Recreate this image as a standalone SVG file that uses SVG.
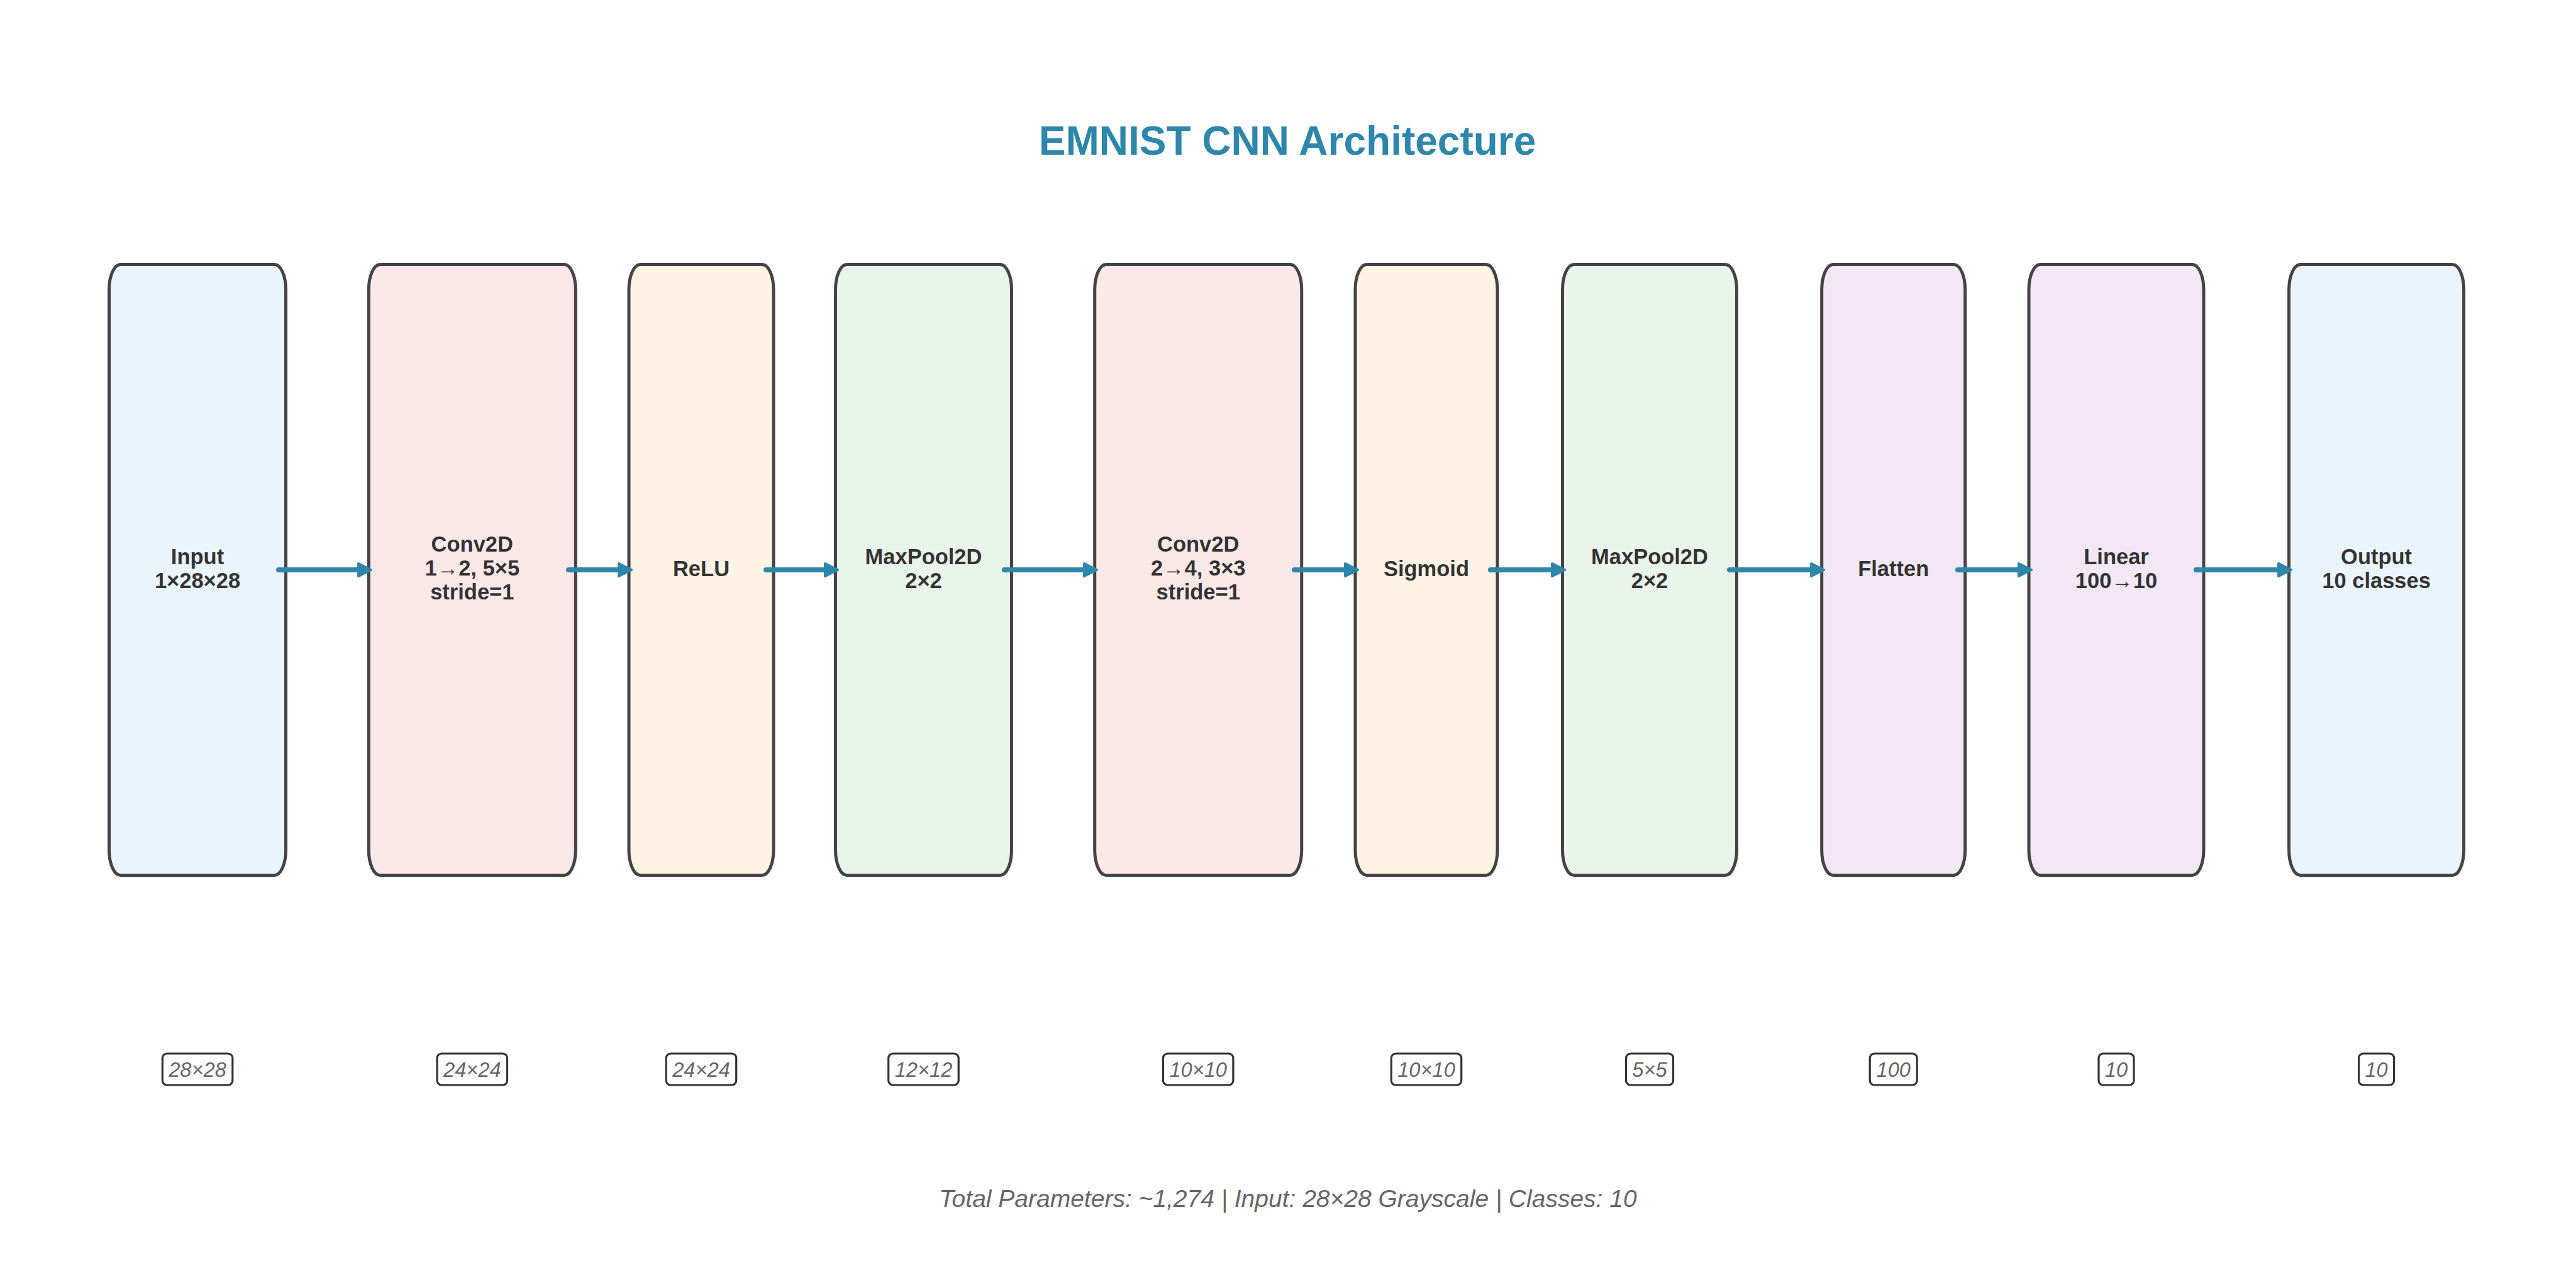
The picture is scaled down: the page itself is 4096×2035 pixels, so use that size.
<svg xmlns="http://www.w3.org/2000/svg" width="4096" height="2035" viewBox="0 0 4096 2035">
<style>
.box{stroke:#444;stroke-width:5}
.lbl{font-family:"Liberation Sans",Arial,sans-serif;font-weight:bold;font-size:34.5px;fill:#333;text-anchor:middle}
.badge{fill:#fff;stroke:#333;stroke-width:3.2}
.btxt{font-family:"Liberation Sans",Arial,sans-serif;font-style:italic;font-size:32.6px;fill:#666;text-anchor:middle}
.conn line{stroke:#2E86AB;stroke-width:8;stroke-linecap:round}
.conn polygon{fill:#2E86AB;stroke:#2E86AB;stroke-width:4;stroke-linejoin:round}
.blue{fill:#EAF4FD}.red{fill:#FDE8E8}.orange{fill:#FFF3E3}.green{fill:#E9F5E9}.purple{fill:#F3E7F5}
</style>
<rect width="4096" height="2035" fill="#fff"/>
<text x="2047" y="246" font-family="'Liberation Sans',Arial,sans-serif" font-weight="bold" font-size="64" fill="#2E86AB" text-anchor="middle">EMNIST CNN Architecture</text>

<g id="node-input">
<rect class="box blue" x="173.5" y="420.5" width="281" height="971" rx="18" ry="40"/>
<text class="lbl" x="314" y="897">Input</text><text class="lbl" x="314" y="935">1×28×28</text>
<rect class="badge" x="258.3" y="1675" width="111.5" height="50" rx="7"/><text class="btxt" x="314" y="1712">28×28</text>
</g>
<g id="node-conv1">
<rect class="box red" x="586.3" y="420.5" width="329" height="971" rx="18" ry="40"/>
<text class="lbl" x="750.8" y="877">Conv2D</text><text class="lbl" x="750.8" y="915">1→2, 5×5</text><text class="lbl" x="750.8" y="953">stride=1</text>
<rect class="badge" x="695" y="1675" width="111.5" height="50" rx="7"/><text class="btxt" x="750.8" y="1712">24×24</text>
</g>
<g id="node-relu">
<rect class="box orange" x="1000" y="420.5" width="230" height="971" rx="18" ry="40"/>
<text class="lbl" x="1115" y="916">ReLU</text>
<rect class="badge" x="1059.2" y="1675" width="111.5" height="50" rx="7"/><text class="btxt" x="1115" y="1712">24×24</text>
</g>
<g id="node-maxpool1">
<rect class="box green" x="1328.5" y="420.5" width="280" height="971" rx="18" ry="40"/>
<text class="lbl" x="1468.5" y="897">MaxPool2D</text><text class="lbl" x="1468.5" y="935">2×2</text>
<rect class="badge" x="1412.7" y="1675" width="111.5" height="50" rx="7"/><text class="btxt" x="1468.5" y="1712">12×12</text>
</g>
<g id="node-conv2">
<rect class="box red" x="1740.7" y="420.5" width="329" height="971" rx="18" ry="40"/>
<text class="lbl" x="1905.2" y="877">Conv2D</text><text class="lbl" x="1905.2" y="915">2→4, 3×3</text><text class="lbl" x="1905.2" y="953">stride=1</text>
<rect class="badge" x="1849.4" y="1675" width="111.5" height="50" rx="7"/><text class="btxt" x="1905.2" y="1712">10×10</text>
</g>
<g id="node-sigmoid">
<rect class="box orange" x="2155" y="420.5" width="226" height="971" rx="18" ry="40"/>
<text class="lbl" x="2268" y="916">Sigmoid</text>
<rect class="badge" x="2212.2" y="1675" width="111.5" height="50" rx="7"/><text class="btxt" x="2268" y="1712">10×10</text>
</g>
<g id="node-maxpool2">
<rect class="box green" x="2484.5" y="420.5" width="277" height="971" rx="18" ry="40"/>
<text class="lbl" x="2623" y="897">MaxPool2D</text><text class="lbl" x="2623" y="935">2×2</text>
<rect class="badge" x="2585.5" y="1675" width="75" height="50" rx="7"/><text class="btxt" x="2623" y="1712">5×5</text>
</g>
<g id="node-flatten">
<rect class="box purple" x="2896.7" y="420.5" width="228" height="971" rx="18" ry="40"/>
<text class="lbl" x="3010.7" y="916">Flatten</text>
<rect class="badge" x="2973.2" y="1675" width="75" height="50" rx="7"/><text class="btxt" x="3010.7" y="1712">100</text>
</g>
<g id="node-linear">
<rect class="box purple" x="3226" y="420.5" width="278" height="971" rx="18" ry="40"/>
<text class="lbl" x="3365" y="897">Linear</text><text class="lbl" x="3365" y="935">100→10</text>
<rect class="badge" x="3337" y="1675" width="56" height="50" rx="7"/><text class="btxt" x="3365" y="1712">10</text>
</g>
<g id="node-output">
<rect class="box blue" x="3639.6" y="420.5" width="278" height="971" rx="18" ry="40"/>
<text class="lbl" x="3778.6" y="897">Output</text><text class="lbl" x="3778.6" y="935">10 classes</text>
<rect class="badge" x="3750.6" y="1675" width="56" height="50" rx="7"/><text class="btxt" x="3778.6" y="1712">10</text>
</g>

<g id="connectors" class="conn">
<line x1="443" y1="906" x2="570" y2="906"/><polygon points="570,896 590,906 570,916"/>
<line x1="904" y1="906" x2="984" y2="906"/><polygon points="984,896 1004,906 984,916"/>
<line x1="1218" y1="906" x2="1312" y2="906"/><polygon points="1312,896 1332,906 1312,916"/>
<line x1="1597" y1="906" x2="1724" y2="906"/><polygon points="1724,896 1744,906 1724,916"/>
<line x1="2058" y1="906" x2="2139" y2="906"/><polygon points="2139,896 2159,906 2139,916"/>
<line x1="2370" y1="906" x2="2468" y2="906"/><polygon points="2468,896 2488,906 2468,916"/>
<line x1="2750" y1="906" x2="2880" y2="906"/><polygon points="2880,896 2900,906 2880,916"/>
<line x1="3113" y1="906" x2="3210" y2="906"/><polygon points="3210,896 3230,906 3210,916"/>
<line x1="3492" y1="906" x2="3623" y2="906"/><polygon points="3623,896 3643,906 3623,916"/>
</g>

<text x="2048" y="1919" font-family="'Liberation Sans',Arial,sans-serif" font-style="italic" font-size="39" fill="#666" text-anchor="middle">Total Parameters: ~1,274 | Input: 28×28 Grayscale | Classes: 10</text>
</svg>
